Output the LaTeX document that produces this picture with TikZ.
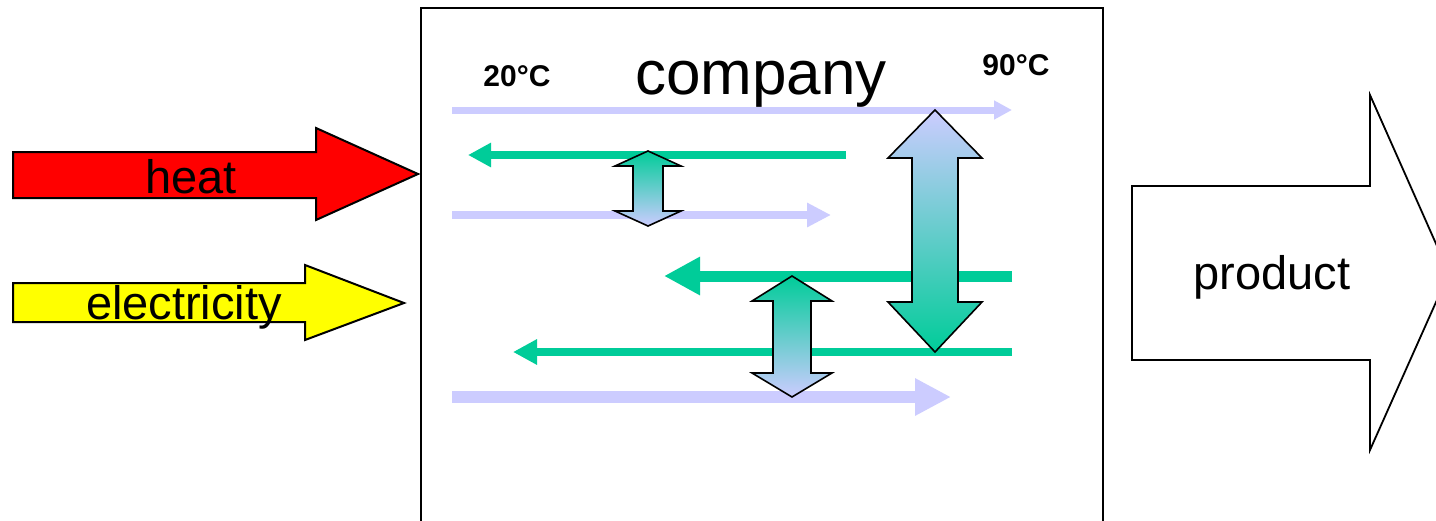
\documentclass[tikz,border=0pt]{standalone}
\usepackage{fontspec}
\setmainfont{Liberation Sans}
\usetikzlibrary{arrows.meta}
\definecolor{hgreen}{HTML}{00CC99}
\definecolor{lav}{HTML}{CCCCFF}
\definecolor{hred}{HTML}{FF0000}
\definecolor{hyellow}{HTML}{FFFF00}
\tikzset{
  shapeline/.style={draw=black, line width=2pt, line join=miter},
  lavline/.style={draw=lav},
  greenline/.style={draw=hgreen},
  exch/.style={draw=black, line width=1.6pt, line join=miter},
  bigtext/.style={anchor=base, inner sep=0pt, font=\fontsize{47pt}{47pt}\selectfont},
  temptext/.style={anchor=base, inner sep=0pt, font=\fontsize{30pt}{30pt}\selectfont\bfseries},
}
\begin{document}
\begin{tikzpicture}[x=1pt,y=-1pt]
\useasboundingbox (0,0) rectangle (1436,520);
\begin{scope}
\clip (0,0) rectangle (1436,520);
% company box
\draw[shapeline, fill=white] (421,8) rectangle (1103,540);
% lavender streams (cold)
\draw[lavline, line width=7pt, -{Triangle[length=18pt,width=18pt]}] (452,110) -- (1012,110);
\draw[lavline, line width=8pt, -{Triangle[length=24pt,width=23pt]}] (452,215) -- (831,215);
\draw[lavline, line width=12pt, -{Triangle[length=36pt,width=35pt]}] (452,397) -- (951,397);
% green streams (hot)
\draw[greenline, line width=8pt, -{Triangle[length=23pt,width=23pt]}] (846,155) -- (468,155);
\draw[greenline, line width=11pt, -{Triangle[length=36pt,width=36pt]}] (1012,276) -- (664,276);
\draw[greenline, line width=8pt, -{Triangle[length=24pt,width=24pt]}] (1012,352) -- (513,352);
% exchanger double arrows
\shade[exch, top color=hgreen, bottom color=lav]
  (648,151) -- (681,166) -- (663,166) -- (663,211) -- (681,211) -- (648,226)
  -- (615,211) -- (633,211) -- (633,166) -- (615,166) -- cycle;
\shade[exch, top color=lav, bottom color=hgreen]
  (935,110) -- (982,158) -- (958,158) -- (958,302) -- (982,302) -- (935,352)
  -- (888,302) -- (912,302) -- (912,158) -- (888,158) -- cycle;
\shade[exch, top color=hgreen, bottom color=lav]
  (792,276) -- (832,301) -- (811,301) -- (811,373) -- (832,373) -- (792,397)
  -- (752,373) -- (773,373) -- (773,301) -- (752,301) -- cycle;
% input arrows
\draw[shapeline, fill=hred]
  (13,152) -- (316,152) -- (316,128) -- (418,174) -- (316,220) -- (316,198) -- (13,198) -- cycle;
\draw[shapeline, fill=hyellow]
  (13,283) -- (305,283) -- (305,265) -- (404,303) -- (305,340) -- (305,322) -- (13,322) -- cycle;
% product arrow
\draw[shapeline, line width=1.8pt, fill=white]
  (1132,186) -- (1370,186) -- (1370,95) -- (1449,273) -- (1370,450) -- (1370,360) -- (1132,360) -- cycle;
\end{scope}
% texts
\node[anchor=base, inner sep=0pt, font=\fontsize{62pt}{62pt}\selectfont] (company) at (761,94) {company};
\node[temptext] (cold) at (517,86) {20°C};
\node[temptext] (hot) at (1016,75) {90°C};
\node[bigtext] (heat) at (191,193) {heat};
\node[bigtext] (elec) at (184,319) {electricity};
\node[bigtext] (product) at (1272,289) {product};
\end{tikzpicture}
\end{document}
